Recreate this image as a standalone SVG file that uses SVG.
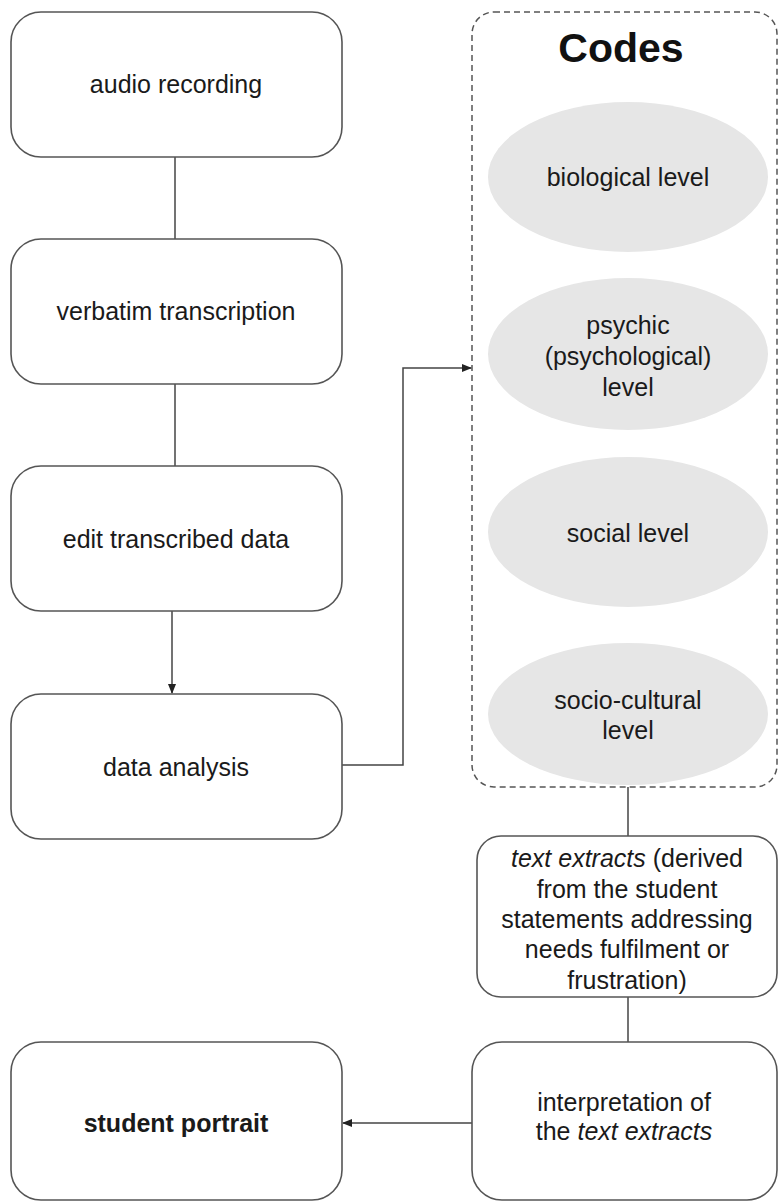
<svg xmlns="http://www.w3.org/2000/svg" width="778" height="1202" viewBox="0 0 778 1202">
<defs>
<style>
.box{fill:#fff;stroke:#555;stroke-width:1.6}
.ell{fill:#e6e6e6;stroke:none}
.cont{fill:none;stroke:#555;stroke-width:1.5;stroke-dasharray:6 4}
.t{font-family:"Liberation Sans",Arial,sans-serif;font-size:25px;fill:#1a1a1a;text-anchor:middle}
.b{font-weight:bold}
.conn line,.conn polyline{stroke:#444;stroke-width:1.5;fill:none}
</style>
<marker id="arr" markerWidth="10" markerHeight="10" refX="9" refY="5" orient="auto" markerUnits="userSpaceOnUse">
<path d="M0,1 L10,5 L0,9 Z" fill="#222"/>
</marker>
</defs>
<rect width="778" height="1202" fill="#fff"/>
<g id="codes">
<rect class="cont" x="472" y="12" width="305" height="775" rx="22"/>
<text class="t b" x="621" y="62" style="font-size:41px;fill:#111">Codes</text>
</g>
<g id="biological">
<ellipse class="ell" cx="628" cy="177" rx="140" ry="75"/>
<text class="t" x="628" y="186">biological level</text>
</g>
<g id="psychic">
<ellipse class="ell" cx="628" cy="354" rx="140" ry="76"/>
<text class="t" x="628" y="334">psychic</text>
<text class="t" x="628" y="365">(psychological)</text>
<text class="t" x="628" y="396">level</text>
</g>
<g id="social">
<ellipse class="ell" cx="628" cy="532" rx="140" ry="75"/>
<text class="t" x="628" y="542">social level</text>
</g>
<g id="sociocultural">
<ellipse class="ell" cx="628" cy="714" rx="140" ry="71"/>
<text class="t" x="628" y="709">socio-cultural</text>
<text class="t" x="628" y="739">level</text>
</g>
<g class="conn" id="connectors">
<line x1="175" y1="157" x2="175" y2="239"/>
<line x1="175" y1="384" x2="175" y2="466"/>
<line x1="172" y1="611" x2="172" y2="693" marker-end="url(#arr)"/>
<polyline points="342,765 403,765 403,368 471,368" marker-end="url(#arr)"/>
<line x1="628" y1="787" x2="628" y2="836"/>
<line x1="628" y1="997" x2="628" y2="1042"/>
<line x1="472" y1="1123" x2="343" y2="1123" marker-end="url(#arr)"/>
</g>
<g id="audio">
<rect class="box" x="11" y="12" width="331" height="145" rx="30"/>
<text class="t" x="176" y="93">audio recording</text>
</g>
<g id="verbatim">
<rect class="box" x="11" y="239" width="331" height="145" rx="30"/>
<text class="t" x="176" y="320">verbatim transcription</text>
</g>
<g id="edit">
<rect class="box" x="11" y="466" width="331" height="145" rx="30"/>
<text class="t" x="176" y="548">edit transcribed data</text>
</g>
<g id="analysis">
<rect class="box" x="11" y="694" width="331" height="145" rx="30"/>
<text class="t" x="176" y="776">data analysis</text>
</g>
<g id="extracts">
<rect class="box" x="477" y="836" width="300" height="161" rx="24"/>
<text class="t" x="627" y="867"><tspan font-style="italic">text extracts</tspan> (derived</text>
<text class="t" x="627" y="898">from the student</text>
<text class="t" x="627" y="928">statements addressing</text>
<text class="t" x="627" y="958">needs fulfilment or</text>
<text class="t" x="627" y="989">frustration)</text>
</g>
<g id="interpretation">
<rect class="box" x="472" y="1042" width="305" height="158" rx="30"/>
<text class="t" x="624" y="1111">interpretation of</text>
<text class="t" x="624" y="1140">the <tspan font-style="italic">text extracts</tspan></text>
</g>
<g id="portrait">
<rect class="box" x="11" y="1042" width="331" height="158" rx="30"/>
<text class="t b" x="176" y="1132">student portrait</text>
</g>
</svg>
